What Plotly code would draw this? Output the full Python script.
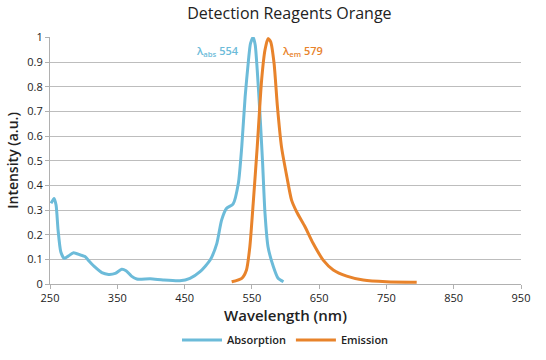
import plotly.graph_objects as go

# Absorption spectrum (wavelength nm, normalized intensity)
abs_wl = [251.5, 256, 259, 262, 266, 271, 277, 285, 295, 302, 309, 317, 327, 337, 347,
          356.5, 363, 371, 379, 399, 418, 443, 458, 473, 488, 498, 505, 512.5, 522, 530,
          535, 540, 545, 548, 552, 555, 558, 562, 566, 569.5, 574, 582, 589, 597]
abs_val = [0.327, 0.347, 0.32, 0.219, 0.131, 0.104, 0.113, 0.127, 0.118, 0.111, 0.09, 0.068,
           0.046, 0.039, 0.043, 0.06, 0.054, 0.032, 0.02, 0.021, 0.016, 0.013, 0.023, 0.05,
           0.097, 0.165, 0.259, 0.307, 0.324, 0.41, 0.557, 0.759, 0.908, 0.976, 1.0, 0.969,
           0.867, 0.692, 0.489, 0.287, 0.151, 0.07, 0.023, 0.009]

# Emission spectrum
em_wl = [520, 535, 542, 547, 552, 558, 564.5, 569.5, 574, 578, 583, 588, 594, 602, 609,
         616.5, 629, 641, 656, 671, 691, 715.5, 750, 795]
em_val = [0.009, 0.023, 0.057, 0.151, 0.327, 0.557, 0.827, 0.949, 0.995, 0.982, 0.895,
          0.719, 0.557, 0.435, 0.34, 0.293, 0.232, 0.165, 0.097, 0.057, 0.032, 0.016,
          0.009, 0.007]

x_ticks = [250, 350, 450, 550, 650, 750, 850, 950]
y_ticks = [0, 0.1, 0.2, 0.3, 0.4, 0.5, 0.6, 0.7, 0.8, 0.9, 1]
y_tick_text = ["0", "0.1", "0.2", "0.3", "0.4", "0.5", "0.6", "0.7", "0.8", "0.9", "1"]

BLUE = "#6cbbd9"
ORANGE = "#e8832b"
FONT = "Open Sans"

fig = go.Figure()
fig.add_trace(go.Scatter(x=abs_wl, y=abs_val, mode="lines", name="Absorption",
                         line=dict(color=BLUE, width=3, shape="spline", smoothing=0.6),
                         cliponaxis=False))
fig.add_trace(go.Scatter(x=em_wl, y=em_val, mode="lines", name="Emission",
                         line=dict(color=ORANGE, width=3, shape="spline", smoothing=0.6),
                         cliponaxis=False))

fig.add_annotation(x=554, y=0.945, xref="x", yref="y", xanchor="right", xshift=-14,
                   text="λ<sub>abs</sub> 554", showarrow=False,
                   font=dict(family=FONT, size=11, color=BLUE, weight=600))
fig.add_annotation(x=579, y=0.945, xref="x", yref="y", xanchor="left", xshift=9,
                   text="λ<sub>em</sub> 579", showarrow=False,
                   font=dict(family=FONT, size=11, color=ORANGE, weight=600))

fig.update_layout(
    width=546, height=360,
    paper_bgcolor="white", plot_bgcolor="white",
    margin=dict(l=50, r=25, t=37, b=76, autoexpand=False),
    title=dict(text="Detection Reagents Orange", x=0.53, xanchor="center",
               y=0.962, yanchor="middle",
               font=dict(family=FONT, size=16, color="#222222")),
    font=dict(family=FONT, color="#222222"),
    showlegend=True,
    legend=dict(orientation="h", x=0.5, xanchor="center",
                yref="container", y=1 - 340 / 360, yanchor="middle",
                font=dict(family=FONT, size=11, color="#222222", weight=600),
                itemwidth=40, tracegroupgap=0),
)
fig.update_xaxes(range=[250, 950], tickvals=x_ticks, ticktext=[str(v) for v in x_ticks],
                 automargin=False,
                 showgrid=False, zeroline=False, showline=True, linecolor="#b0b0b0",
                 linewidth=1, ticks="outside", ticklen=4, tickcolor="#b0b0b0",
                 tickfont=dict(family=FONT, size=11, color="#222222"),
                 title=dict(text="Wavelength (nm)", standoff=8,
                            font=dict(family=FONT, size=15, color="#222222", weight=600)))
fig.update_yaxes(range=[0, 1.0015], tickvals=y_ticks, ticktext=y_tick_text,
                 automargin=False,
                 showgrid=True, gridcolor="#bdbdbd", gridwidth=1,
                 zeroline=False, showline=True, linecolor="#b0b0b0", linewidth=1,
                 ticks="outside", ticklen=4, tickcolor="#b0b0b0",
                 tickfont=dict(family=FONT, size=11, color="#222222"),
                 title=dict(text="Intensity (a.u.)", standoff=5,
                            font=dict(family=FONT, size=14, color="#222222", weight=600)))

fig.write_html("out.html", config={"displayModeBar": False},
               post_script="document.body.style.margin='0';")
